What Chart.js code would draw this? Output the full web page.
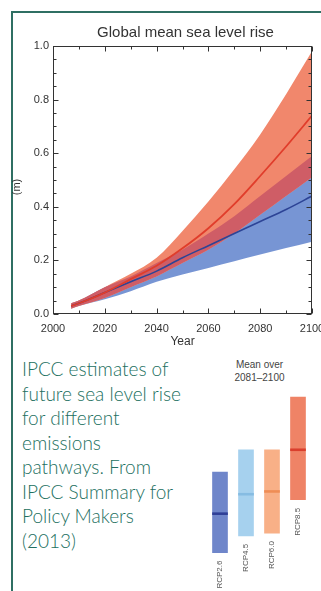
<!DOCTYPE html>
<html>
<head>
<meta charset="utf-8">
<script src="https://cdn.jsdelivr.net/npm/chart.js@4"></script>
<style>
  html, body { margin: 0; padding: 0; background: #fff; width: 321px; height: 591px; overflow: hidden; }
  #frame { position: absolute; left: 11px; top: 11px; width: 330px; height: 600px;
           border-top: 2px solid #2f6f63; border-left: 2px solid #2f6f63; }
  #main { position: absolute; left: 0; top: 0; }
  #bars { position: absolute; left: 207px; top: 347px; }
  #caption { position: absolute; left: 22px; top: 357px; font-family: Lato, 'Open Sans', sans-serif;
             font-size: 19px; font-weight: 300; line-height: 24.5px; color: #226f60; white-space: nowrap; }
  #note { position: absolute; left: 224px; top: 358px; width: 71px; text-align: center;
          font-family: 'Liberation Sans', Arial, sans-serif; font-size: 10px; line-height: 13px; color: #444; }
</style>
</head>
<body>
<div id="frame"></div>
<canvas id="main" width="340" height="350"></canvas>
<div id="caption">IPCC estimates of<br>future sea level rise<br>for different<br>emissions<br>pathways. From<br>IPCC Summary for<br>Policy Makers<br>(2013)</div>
<div id="note">Mean over<br>2081–2100</div>
<canvas id="bars" width="104" height="250"></canvas>
<script>
// Projected global mean sea level rise (m) relative to 1986–2005
const years     = [2007, 2010, 2020, 2030, 2040, 2050, 2060, 2070, 2080, 2090, 2100];
const rcp85Mean = [0.03, 0.04, 0.08, 0.13, 0.18, 0.245, 0.32, 0.41, 0.515, 0.625, 0.74];
const rcp85High = [0.04, 0.05, 0.10, 0.15, 0.21, 0.31, 0.42, 0.54, 0.67, 0.82, 0.98];
const rcp85Low  = [0.02, 0.03, 0.06, 0.10, 0.14, 0.19, 0.24, 0.30, 0.37, 0.44, 0.51];
const rcp26Mean = [0.03, 0.04, 0.08, 0.12, 0.16, 0.21, 0.255, 0.30, 0.345, 0.39, 0.44];
const rcp26High = [0.04, 0.05, 0.10, 0.14, 0.19, 0.24, 0.30, 0.365, 0.44, 0.515, 0.59];
const rcp26Low  = [0.02, 0.03, 0.055, 0.085, 0.12, 0.147, 0.172, 0.197, 0.222, 0.246, 0.27];

// Axis ticks
const xMajorTicks = [2000, 2020, 2040, 2060, 2080, 2100];
const xMinorTicks = [2010, 2030, 2050, 2070, 2090];
const yMajorTicks = [0.0, 0.2, 0.4, 0.6, 0.8, 1.0];
const yMinorTicks = [0.05, 0.1, 0.15, 0.25, 0.3, 0.35, 0.45, 0.5, 0.55, 0.65, 0.7, 0.75, 0.85, 0.9, 0.95];

// Mean over 2081–2100 with likely range
const scenarios  = ['RCP2.6', 'RCP4.5', 'RCP6.0', 'RCP8.5'];
const rangeLow   = [0.26, 0.32, 0.33, 0.45];
const rangeHigh  = [0.55, 0.63, 0.63, 0.82];
const rangeMean  = [0.40, 0.47, 0.48, 0.63];

const barColors  = ['#6f86ca', '#a6d1ee', '#f8b087', '#ef8366'];
const meanColors = ['#2f3f96', '#86bce2', '#ef8d55', '#da3f2d'];

const chartTitle = 'Global mean sea level rise';
const yTitle = '(m)';

Chart.defaults.font.family = "'Liberation Sans', Arial, sans-serif";

const pts = arr => arr.map((v, i) => ({ x: years[i], y: v }));

// Plot frame with inward ticks on all four sides, title centred over the plot, unit label
const boxTicks = {
  id: 'boxTicks',
  afterDatasetsDraw(chart) {
    const { ctx, chartArea: a, scales: { x, y } } = chart;
    ctx.save();
    ctx.strokeStyle = '#333';
    ctx.lineWidth = 1;
    const L = Math.round(a.left) + 0.5, R = Math.round(a.right) - 0.5;
    const T = Math.round(a.top) + 0.5, B = Math.round(a.bottom) - 0.5;
    ctx.strokeRect(L, T, R - L, B - T);
    ctx.beginPath();
    const xt = (v, len) => {
      const p = Math.round(x.getPixelForValue(v)) + 0.5;
      ctx.moveTo(p, B); ctx.lineTo(p, B - len);
      ctx.moveTo(p, T); ctx.lineTo(p, T + len);
    };
    const yt = (v, len) => {
      const p = Math.round(y.getPixelForValue(v)) + 0.5;
      ctx.moveTo(L, p); ctx.lineTo(L + len, p);
      ctx.moveTo(R, p); ctx.lineTo(R - len, p);
    };
    xMajorTicks.forEach(v => xt(v, 5));
    xMinorTicks.forEach(v => xt(v, 3));
    yMajorTicks.forEach(v => yt(v, 5));
    yMinorTicks.forEach(v => yt(v, 3));
    ctx.stroke();

    ctx.fillStyle = '#333';
    ctx.font = "15px 'Liberation Sans', Arial, sans-serif";
    ctx.textAlign = 'center';
    ctx.textBaseline = 'middle';
    ctx.fillText(chartTitle, (a.left + a.right) / 2 + 3, a.top - 13);

    ctx.font = "11px 'Liberation Sans', Arial, sans-serif";
    ctx.translate(17, (a.top + a.bottom) / 2 + 7);
    ctx.rotate(-Math.PI / 2);
    ctx.fillText(yTitle, 0, 0);
    ctx.restore();
  }
};

const band = { borderWidth: 0, pointRadius: 0, cubicInterpolationMode: 'monotone' };

new Chart(document.getElementById('main'), {
  type: 'line',
  data: {
    datasets: [
      { ...band, label: 'RCP2.6 low',  data: pts(rcp26Low),  fill: false, order: 10 },
      { ...band, label: 'RCP2.6 high', data: pts(rcp26High), fill: { target: 0 }, backgroundColor: '#7795d4', order: 9 },
      { ...band, label: 'RCP8.5 low',  data: pts(rcp85Low),  fill: false, order: 8 },
      { ...band, label: 'RCP8.5 high', data: pts(rcp85High), fill: { target: 2 }, backgroundColor: '#f1876c', order: 7 },
      { ...band, label: 'overlap', data: pts(rcp26High), fill: { target: 2, above: '#cf5d66', below: 'rgba(0,0,0,0)' }, order: 6 },
      { label: 'RCP2.6', data: pts(rcp26Mean), borderColor: '#2d4496', borderWidth: 1.6, pointRadius: 0, fill: false, cubicInterpolationMode: 'monotone', order: 2 },
      { label: 'RCP8.5', data: pts(rcp85Mean), borderColor: '#e03d2b', borderWidth: 1.8, pointRadius: 0, fill: false, cubicInterpolationMode: 'monotone', order: 1 }
    ]
  },
  options: {
    responsive: false,
    animation: false,
    devicePixelRatio: 1,
    layout: { padding: { left: 0, right: 28, top: 46, bottom: 0 } },
    plugins: {
      legend: { display: false },
      tooltip: { enabled: false },
      title: { display: false }
    },
    scales: {
      x: {
        type: 'linear', min: 2000, max: 2100,
        afterBuildTicks: s => { s.ticks = xMajorTicks.map(v => ({ value: v })); },
        afterFit: s => { s.height = 36; },
        grid: { display: false, drawTicks: false },
        border: { display: false },
        ticks: { padding: 8, color: '#333', font: { size: 11 }, maxRotation: 0, autoSkip: false, callback: v => String(v) },
        title: { display: true, text: 'Year', color: '#333', font: { size: 12 }, padding: { top: 0, bottom: 1 } }
      },
      y: {
        min: 0, max: 1,
        afterBuildTicks: s => { s.ticks = yMajorTicks.map(v => ({ value: v })); },
        afterFit: s => { s.width = 53; },
        grid: { display: false, drawTicks: false },
        border: { display: false },
        ticks: { padding: 4, color: '#333', font: { size: 11 }, callback: v => v.toFixed(1) },
        title: { display: false }
      }
    }
  },
  plugins: [boxTicks]
});

// Scenario names written upward beneath each bar
const barLabels = {
  id: 'barLabels',
  afterDatasetsDraw(chart) {
    const { ctx } = chart;
    const meta = chart.getDatasetMeta(0);
    ctx.save();
    ctx.fillStyle = '#555';
    ctx.font = "8px 'Liberation Sans', Arial, sans-serif";
    ctx.textAlign = 'right';
    ctx.textBaseline = 'middle';
    meta.data.forEach((el, i) => {
      const bottom = Math.max(el.base, el.y);
      ctx.save();
      ctx.translate(el.x, bottom + 8);
      ctx.rotate(-Math.PI / 2);
      ctx.fillText(scenarios[i], 0, 0);
      ctx.restore();
    });
    ctx.restore();
  }
};

new Chart(document.getElementById('bars'), {
  type: 'bar',
  data: {
    labels: scenarios,
    datasets: [
      { data: scenarios.map((_, i) => [rangeLow[i], rangeHigh[i]]), backgroundColor: barColors,
        barThickness: 15, grouped: false, order: 2 },
      { data: rangeMean.map(m => [m - 0.0035, m + 0.0035]), backgroundColor: meanColors,
        barThickness: 15, grouped: false, order: 1 }
    ]
  },
  options: {
    responsive: false,
    animation: false,
    devicePixelRatio: 1,
    layout: { padding: 0 },
    plugins: { legend: { display: false }, tooltip: { enabled: false } },
    scales: {
      x: { display: false, offset: true },
      y: { display: false, min: 0.1, max: 1.0 }
    }
  },
  plugins: [barLabels]
});
</script>
</body>
</html>
